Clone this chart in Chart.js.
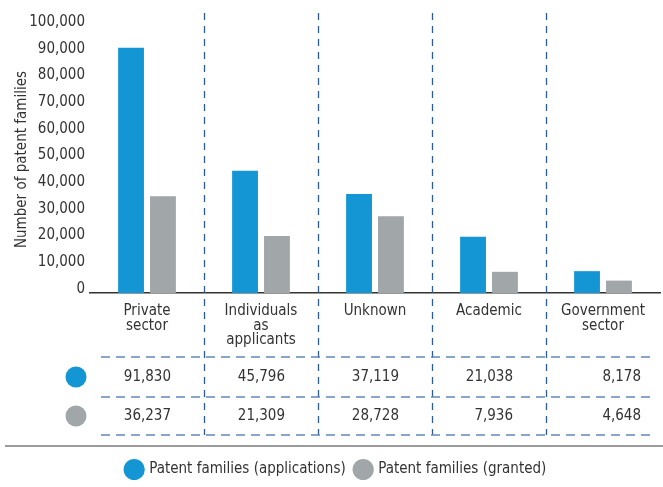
<!DOCTYPE html>
<html>
<head>
<meta charset="utf-8">
<script src="https://cdn.jsdelivr.net/npm/chart.js@4"></script>
<style>
  body { margin: 0; background: #fff; }
</style>
</head>
<body>
<canvas id="patentChart" width="663" height="487"></canvas>
<script>
// Patent families by applicant type
const categories = [
  ["Private", "sector"],
  ["Individuals", "as", "applicants"],
  ["Unknown"],
  ["Academic"],
  ["Government", "sector"],
];
const applications = [91830, 45796, 37119, 21038, 8178];
const granted = [36237, 21309, 28728, 7936, 4648];
const yTicks = [0, 10000, 20000, 30000, 40000, 50000, 60000, 70000, 80000, 90000, 100000];

const BLUE = "#1496d5";
const GREY = "#a1a6a9";
const TEXT = "#333333";
const FONT = "'DejaVu Sans Condensed', 'Liberation Sans Narrow', 'Roboto', sans-serif";

const fmt = (n) => n.toLocaleString("en-US");

// Draws the dashed column separators, the value table and the rule under it
const tablePlugin = {
  id: "valueTable",
  afterDraw(chart) {
    const { ctx, chartArea, scales } = chart;
    const xs = scales.x;
    const rows = [
      { values: applications, color: BLUE, y: 377 },
      { values: granted, color: GREY, y: 416 },
    ];
    const lineYs = [357, 397, 435];

    ctx.save();

    // vertical separators between categories
    ctx.strokeStyle = "#2c5c9c";
    ctx.lineWidth = 1.3;
    ctx.setLineDash([7, 6]);
    for (let i = 0; i < categories.length - 1; i++) {
      const x = Math.round((xs.getPixelForValue(i) + xs.getPixelForValue(i + 1)) / 2) + 0.5;
      ctx.beginPath();
      ctx.moveTo(x, chartArea.top - 13);
      ctx.lineTo(x, lineYs[lineYs.length - 1]);
      ctx.stroke();
    }

    // horizontal table lines
    ctx.strokeStyle = "#6488bb";
    ctx.lineWidth = 1.5;
    ctx.setLineDash([9, 6]);
    lineYs.forEach((y) => {
      ctx.beginPath();
      ctx.moveTo(101, y);
      ctx.lineTo(656, y);
      ctx.stroke();
    });
    ctx.setLineDash([]);

    // row markers and values
    ctx.font = "15px " + FONT;
    ctx.textBaseline = "middle";
    ctx.textAlign = "right";
    rows.forEach((row) => {
      ctx.fillStyle = row.color;
      ctx.beginPath();
      ctx.arc(76, row.y, 10.5, 0, Math.PI * 2);
      ctx.fill();
      ctx.fillStyle = TEXT;
      row.values.forEach((v, i) => {
        const shift = i === row.values.length - 1 ? 38 : 24;
        ctx.fillText(fmt(v), xs.getPixelForValue(i) + shift, row.y);
      });
    });

    // solid rule above the legend
    ctx.strokeStyle = "#7a7a7a";
    ctx.lineWidth = 1.5;
    ctx.beginPath();
    ctx.moveTo(5, 446);
    ctx.lineTo(663, 446);
    ctx.stroke();

    ctx.restore();
  },
};

new Chart(document.getElementById("patentChart"), {
  type: "bar",
  data: {
    labels: categories,
    datasets: [
      {
        label: "Patent families (applications)",
        data: applications,
        backgroundColor: BLUE,
        categoryPercentage: 0.56,
        barPercentage: 0.81,
      },
      {
        label: "Patent families (granted)",
        data: granted,
        backgroundColor: GREY,
        categoryPercentage: 0.56,
        barPercentage: 0.81,
      },
    ],
  },
  options: {
    responsive: false,
    animation: false,
    layout: {
      padding: { top: 26, left: 13, right: 3, bottom: 0 },
    },
    plugins: {
      tooltip: { enabled: false },
      legend: {
        position: "bottom",
        labels: {
          usePointStyle: true,
          pointStyle: "circle",
          boxWidth: 15,
          boxHeight: 15,
          padding: 10,
          color: TEXT,
          font: { family: FONT, size: 15 },
        },
      },
    },
    scales: {
      x: {
        grid: { display: false, drawTicks: false },
        border: { display: true, color: "#333333", width: 1.5 },
        ticks: {
          color: TEXT,
          padding: 11,
          maxRotation: 0,
          autoSkip: false,
          font: { family: FONT, size: 15, lineHeight: 0.97 },
        },
        afterFit: (scale) => {
          scale.height = 159;
        },
      },
      y: {
        min: 0,
        max: 100000,
        grid: { display: false, drawTicks: false },
        border: { display: false },
        afterBuildTicks: (scale) => {
          scale.ticks = yTicks.map((v) => ({ value: v }));
        },
        ticks: {
          color: TEXT,
          padding: 5,
          labelOffset: -4,
          font: { family: FONT, size: 15 },
          callback: (v) => fmt(v),
        },
        title: {
          display: true,
          text: "Number of patent families",
          color: TEXT,
          padding: { top: 0, bottom: 0 },
          font: { family: FONT, size: 15 },
        },
        afterFit: (scale) => {
          scale.width = 77;
        },
      },
    },
  },
  plugins: [tablePlugin],
});
</script>
</body>
</html>
